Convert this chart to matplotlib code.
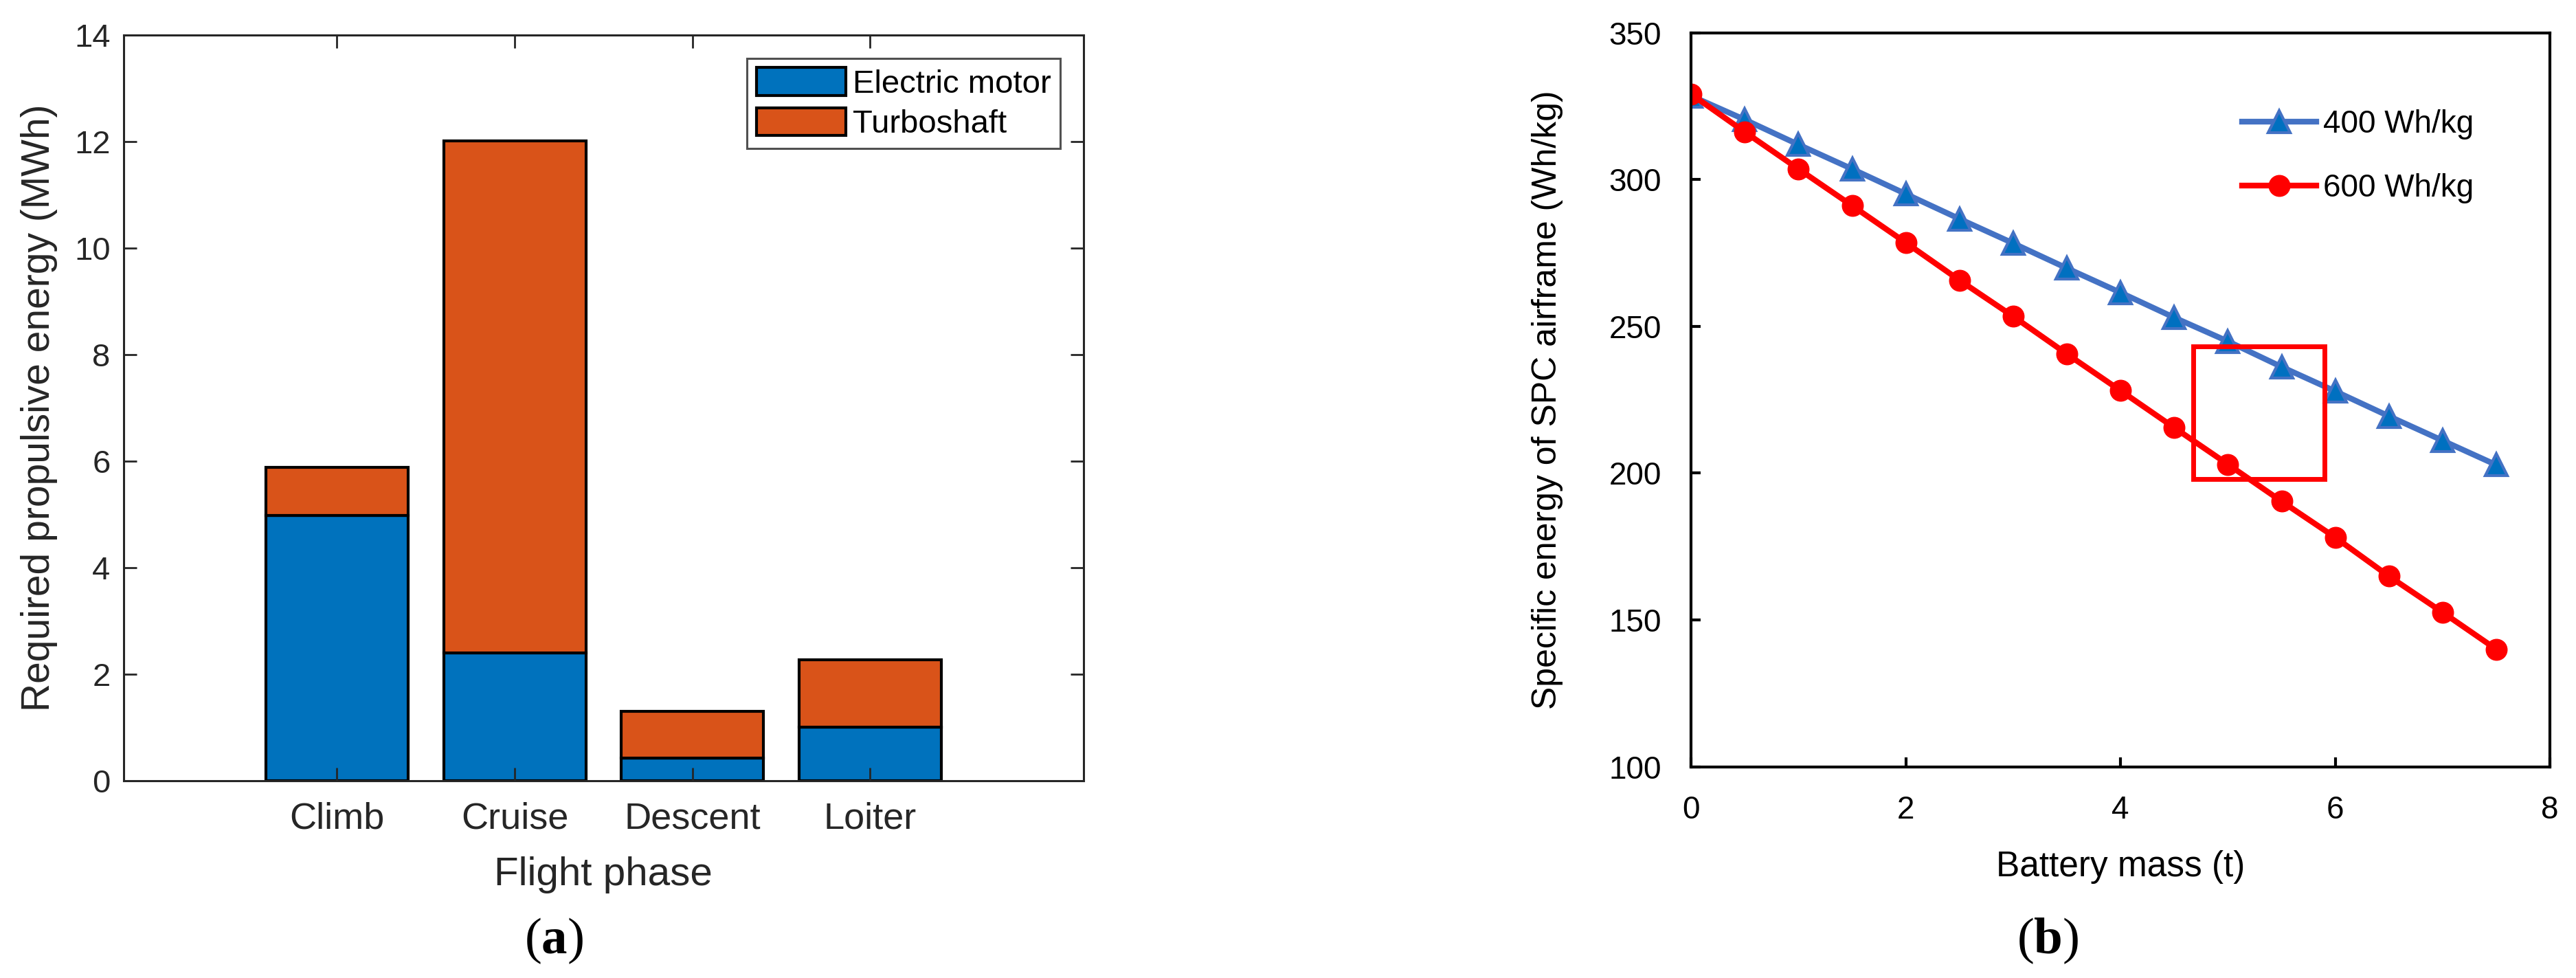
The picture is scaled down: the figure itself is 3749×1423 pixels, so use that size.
import matplotlib
matplotlib.use("Agg")
import matplotlib.pyplot as plt
from matplotlib.patches import Rectangle
import numpy as np

plt.rcParams['font.family'] = ['Liberation Sans', 'DejaVu Sans']
plt.rcParams['mathtext.fontset'] = 'custom'
plt.rcParams['mathtext.rm'] = 'Liberation Serif'
plt.rcParams['mathtext.bf'] = 'Liberation Serif:bold'

# ---------------- data ----------------
phases = ['Climb', 'Cruise', 'Descent', 'Loiter']
electric = [4.98, 2.40, 0.42, 1.00]
turboshaft = [0.90, 9.61, 0.88, 1.27]

battery_mass = [0, 0.5, 1, 1.5, 2, 2.5, 3, 3.5, 4, 4.5, 5, 5.5, 6, 6.5, 7, 7.5]
se_400 = [328.5, 320.4, 311.9, 303.6, 295.1, 286.6, 278.3, 269.8,
          261.5, 253.0, 244.9, 236.2, 227.9, 219.4, 211.1, 202.8]
se_600 = [329.1, 316.2, 303.6, 291.1, 278.5, 265.7, 253.4, 240.6,
          228.1, 215.5, 203.0, 190.4, 178.1, 164.9, 152.6, 140.0]

# highlight box in panel (b): x0, x1, y0, y1
box_x = [4.68, 5.90]
box_y = [198.0, 243.2]

# ---------------- figure ----------------
W, H = 3749, 1423
fig = plt.figure(figsize=(W / 100, H / 100), dpi=100)

txt = '#262626'
c_blue = '#0072BD'
c_orange = '#D95319'

# (a) stacked bars
ax1 = fig.add_axes([0.048, 0.2017, 0.3726, 0.7625])
x = np.arange(1, len(phases) + 1)
ax1.bar(x, electric, 0.8, color=c_blue, edgecolor='black', linewidth=3,
        label='Electric motor')
ax1.bar(x, turboshaft, 0.8, bottom=electric, color=c_orange,
        edgecolor='black', linewidth=3, label='Turboshaft')
ax1.set_xlim(-0.2, 5.2)
ax1.set_ylim(0, 14)
ax1.set_yticks(np.arange(0, 15, 2))
ax1.set_xticks(x)
ax1.set_xticklabels(phases)
ax1.tick_params(direction='in', length=14, width=2, colors=txt,
                top=True, right=True)
ax1.tick_params(axis='y', labelsize=34, pad=14)
ax1.tick_params(axis='x', labelsize=39, pad=22)
for s in ax1.spines.values():
    s.set_linewidth(2.2)
    s.set_color(txt)
ax1.set_xlabel('Flight phase', fontsize=42, color=txt, labelpad=21)
ax1.set_ylabel('Required propulsive energy (MWh)', fontsize=41, color=txt,
               labelpad=17)
leg1 = ax1.legend(loc='upper right', fontsize=34, frameon=True, fancybox=False,
                  edgecolor=txt, handlelength=2.76, handleheight=0.95,
                  borderpad=0.28, labelspacing=0.25, handletextpad=0.21,
                  borderaxespad=0.72)
leg1.get_frame().set_linewidth(2.2)
for t in leg1.get_texts():
    t.set_color('black')

# (b) specific energy lines
ax2 = fig.add_axes([0.6565, 0.216, 0.3334, 0.7505])
ax2.plot(battery_mass, se_400, color='#4472C4', linewidth=6, marker='^',
         markersize=23, markerfacecolor='#0070C0', markeredgecolor='#4472C4',
         markeredgewidth=3, label='400 Wh/kg')
ax2.plot(battery_mass, se_600, color='#FF0000', linewidth=6, marker='o',
         markersize=22, markerfacecolor='#FF0000', markeredgecolor='#FF0000',
         label='600 Wh/kg')
ax2.add_patch(Rectangle((box_x[0], box_y[0]), box_x[1] - box_x[0],
                        box_y[1] - box_y[0], fill=False, edgecolor='#FF0000',
                        linewidth=5, zorder=5))
ax2.set_xlim(0, 8)
ax2.set_ylim(100, 350)
ax2.set_xticks([0, 2, 4, 6, 8])
ax2.set_yticks(np.arange(100, 351, 50))
ax2.tick_params(direction='in', length=10, width=3, colors='black',
                labelsize=33)
ax2.tick_params(axis='y', pad=31)
ax2.tick_params(axis='x', pad=30)
for s in ax2.spines.values():
    s.set_linewidth(3)
    s.set_color('black')
ax2.set_xlabel('Battery mass (t)', fontsize=37, labelpad=26)
ax2.set_ylabel('Specific energy of SPC airframe (Wh/kg)', fontsize=36,
               labelpad=48)
ax2.legend(loc='upper left', bbox_to_anchor=(0.623, 0.917), fontsize=33,
           frameon=False, borderpad=0, handlelength=2.35,
           handletextpad=0.22, labelspacing=1.07)

fig.text(0.215, 0.038, r'($\mathbf{a}$)', fontsize=54, ha='center',
         va='center', family='Liberation Serif')
fig.text(0.795, 0.038, r'($\mathbf{b}$)', fontsize=54, ha='center',
         va='center', family='Liberation Serif')

fig.savefig('out.png', dpi=100)
